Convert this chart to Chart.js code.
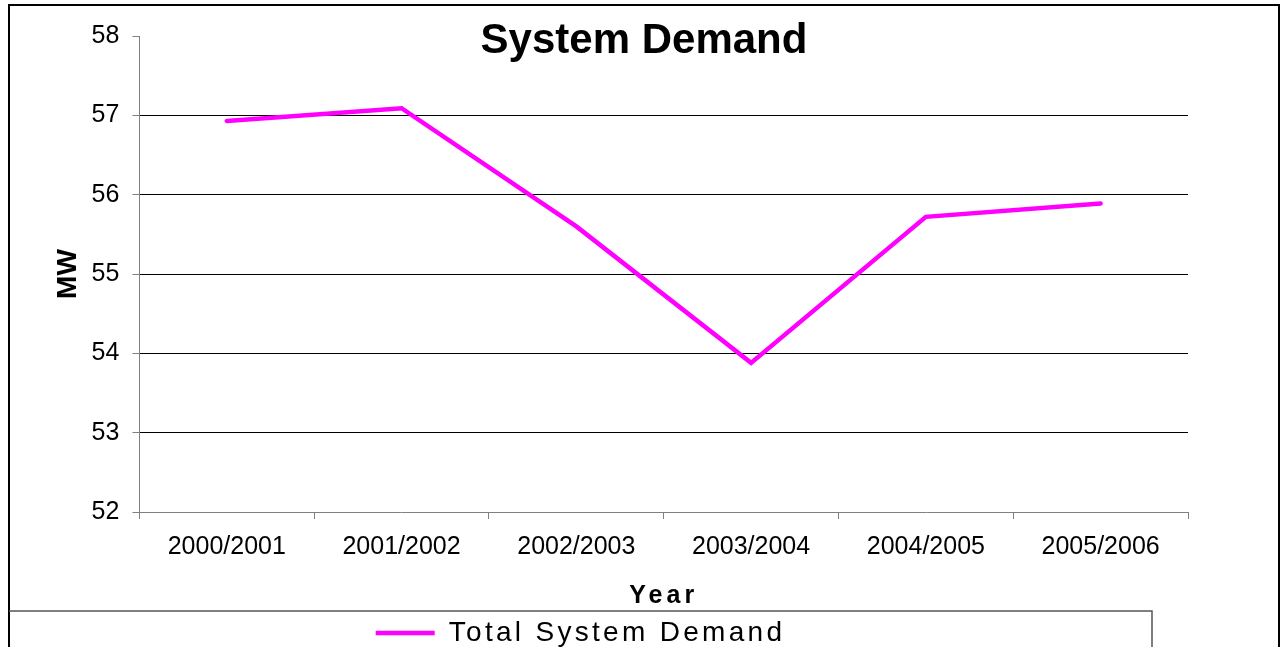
<!DOCTYPE html>
<html>
<head>
<meta charset="utf-8">
<title>System Demand</title>
<script src="https://cdn.jsdelivr.net/npm/chart.js@4.4.1/dist/chart.umd.min.js"></script>
<style>
  html, body { margin: 0; padding: 0; background: #fff; overflow: hidden; }
  #wrap { width: 1286px; height: 657px; }
</style>
</head>
<body>
<div id="wrap"><canvas id="demand-chart" width="1286" height="657"></canvas></div>
<script>
const years = ['2000/2001', '2001/2002', '2002/2003', '2003/2004', '2004/2005', '2005/2006'];
const totalDemand = [56.93, 57.09, 55.6, 53.88, 55.72, 55.89];
const demandTicks = [52, 53, 54, 55, 56, 57, 58];

Chart.defaults.font.family = '"Liberation Sans", Arial, sans-serif';
Chart.defaults.color = '#000';

// outer chart frame and legend frame (the old Excel chart object borders)
const FRAME = { left: 9, top: 5, right: 1279 };
const LEGEND_RIGHT = 1152;
const LEGEND_SPACING = '3.3px';
const YEAR_SPACING = '4px';

const yMin = demandTicks[0];
const yMax = demandTicks[demandTicks.length - 1];

// title centred on the whole frame, legend centred in its own box,
// legend text and axis title spaced out like the source
const excelLook = {
  id: 'excelLook',
  afterInit(chart) {
    const title = chart.titleBlock;
    const drawTitle = title.draw;
    title.draw = function () {
      const ctx = this.ctx;
      ctx.save();
      ctx.translate((FRAME.left + FRAME.right) / 2 - (this.left + this.right) / 2, 0);
      drawTitle.apply(this, arguments);
      ctx.restore();
    };

    const legend = chart.legend;
    const fitLegend = legend.fit;
    const drawLegend = legend.draw;
    legend.fit = function () {
      this.ctx.save();
      this.ctx.letterSpacing = LEGEND_SPACING;
      fitLegend.apply(this, arguments);
      this.ctx.restore();
    };
    legend.draw = function () {
      const ctx = this.ctx;
      ctx.save();
      ctx.letterSpacing = LEGEND_SPACING;
      ctx.translate((FRAME.left + LEGEND_RIGHT) / 2 - (this.left + this.right) / 2, 0);
      drawLegend.apply(this, arguments);
      ctx.restore();
    };
  },
  beforeDraw(chart) {
    const x = chart.scales.x;
    if (!x.spacedTitle) {
      const drawTitle = x.drawTitle;
      x.drawTitle = function () {
        this.ctx.save();
        this.ctx.letterSpacing = YEAR_SPACING;
        drawTitle.apply(this, arguments);
        this.ctx.restore();
      };
      x.spacedTitle = true;
    }
  },
  afterDraw(chart) {
    const ctx = chart.ctx;
    ctx.save();
    ctx.strokeStyle = '#000';
    ctx.lineWidth = 2;
    ctx.strokeRect(FRAME.left, FRAME.top, FRAME.right - FRAME.left, chart.height);
    ctx.strokeStyle = '#555';
    ctx.lineWidth = 1.5;
    ctx.beginPath();
    ctx.moveTo(FRAME.left, chart.legend.top);
    ctx.lineTo(LEGEND_RIGHT, chart.legend.top);
    ctx.lineTo(LEGEND_RIGHT, chart.height);
    ctx.stroke();
    ctx.restore();
  }
};

new Chart(document.getElementById('demand-chart'), {
  type: 'line',
  data: {
    labels: years,
    datasets: [{
      label: 'Total System Demand',
      data: totalDemand,
      borderColor: '#FF00FF',
      backgroundColor: '#FF00FF',
      borderWidth: 4.5,
      borderCapStyle: 'round',
      pointRadius: 0,
      tension: 0
    }]
  },
  options: {
    responsive: false,
    animation: false,
    layout: { padding: { left: 50, right: 98, top: 0, bottom: 0 } },
    plugins: {
      title: {
        display: true,
        text: 'System Demand',
        font: { size: 42, weight: 'bold' },
        padding: { top: 16, bottom: -30.4 }
      },
      legend: {
        position: 'bottom',
        labels: {
          font: { size: 28 },
          usePointStyle: true,
          pointStyle: 'line',
          pointStyleWidth: 59,
          padding: 8
        }
      },
      tooltip: { enabled: false }
    },
    scales: {
      x: {
        offset: true,
        grid: { offset: true, drawOnChartArea: false, tickLength: 7, tickColor: '#808080' },
        border: { color: '#808080', width: 1 },
        ticks: { font: { size: 25 }, padding: 13, maxRotation: 0 },
        title: {
          display: true,
          text: 'Year',
          font: { size: 25, weight: 'bold' },
          padding: { top: 6, bottom: 0 }
        }
      },
      y: {
        min: yMin,
        max: yMax,
        ticks: { stepSize: 1, font: { size: 25 }, padding: 13 },
        grid: {
          color: (c) => (c.tick && (c.tick.value === yMin || c.tick.value === yMax)) ? 'rgba(0,0,0,0)' : '#000',
          tickLength: 7,
          tickColor: '#808080'
        },
        border: { color: '#808080', width: 1 },
        title: {
          display: true,
          text: 'MW',
          font: { size: 28, weight: 'bold' },
          padding: { top: 1, bottom: -6 }
        }
      }
    }
  },
  plugins: [excelLook]
});
</script>
</body>
</html>
